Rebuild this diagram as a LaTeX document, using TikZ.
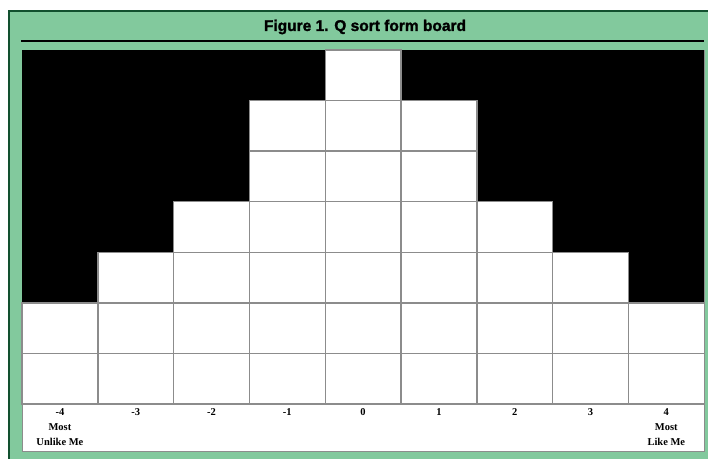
\documentclass[tikz,border=0pt]{standalone}
\usepackage{fontspec}
\setmainfont{Liberation Serif}
\newfontfamily\titlefont{Liberation Sans Bold}[FakeBold=1.6]
\usepackage{tikz}
\usetikzlibrary{positioning}
\definecolor{frame}{HTML}{82C99D}
\definecolor{framedark}{HTML}{12502F}
\definecolor{gridline}{HTML}{8C8C8C}

\begin{document}
\begin{tikzpicture}[
  x=1pt, y=-1pt,
  cell/.style={
    draw=gridline,
    line width=1.4pt,
    fill=white,
    minimum width=75.8pt,
    minimum height=50.6pt,
    inner sep=0pt
  },
  heading/.style={
    font=\titlefont\fontsize{15.5}{15.5}\selectfont,
    inner sep=0pt
  },
  axislbl/.style={
    font=\bfseries\fontsize{10.5}{15}\selectfont,
    align=center,
    anchor=north,
    inner sep=0pt
  }
]
  \useasboundingbox (0,0) rectangle (708,458);

  % frame and title
  \fill[white] (0,0) rectangle (708,458);
  \fill[frame] (8,10) rectangle (720,470);
  \draw[framedark,line width=2.5pt] (9.2,470) -- (9.2,11.2) -- (720,11.2);
  \node[heading] (title) at (365,27) {Figure 1. Q sort form board};
  \coordinate (ruleL) at (21,41);
  \coordinate (ruleR) at (704,41);
  \draw[black,line width=2pt] (ruleL) -- (ruleR);

  % board
  \fill[white,draw=gridline,line width=0.8pt] (22,50) rectangle (704,451);
  \fill[black] (22,50) rectangle (704,303);

  \foreach \col/\h in {-4/2,-3/3,-2/4,-1/6,0/7,1/6,2/4,3/3,4/2} {
    \pgfmathsetmacro{\xc}{22+75.8*(\col+4)+37.9}
    \foreach \r in {1,...,\h} {
      \node[cell] (cell\col-\r) at (\xc,{404-50.6*(\r-0.5)}) {};
    }
  }

  % column labels
  \foreach \col/\txt in {-4/{-4\\Most\\Unlike Me},-3/-3,-2/-2,-1/-1,0/0,1/1,2/2,3/3,4/{4\\Most\\Like Me}} {
    \node[axislbl] (lbl\col) at ({22+75.8*(\col+4)+37.9},408.5) {\txt};
  }

\end{tikzpicture}
\end{document}
